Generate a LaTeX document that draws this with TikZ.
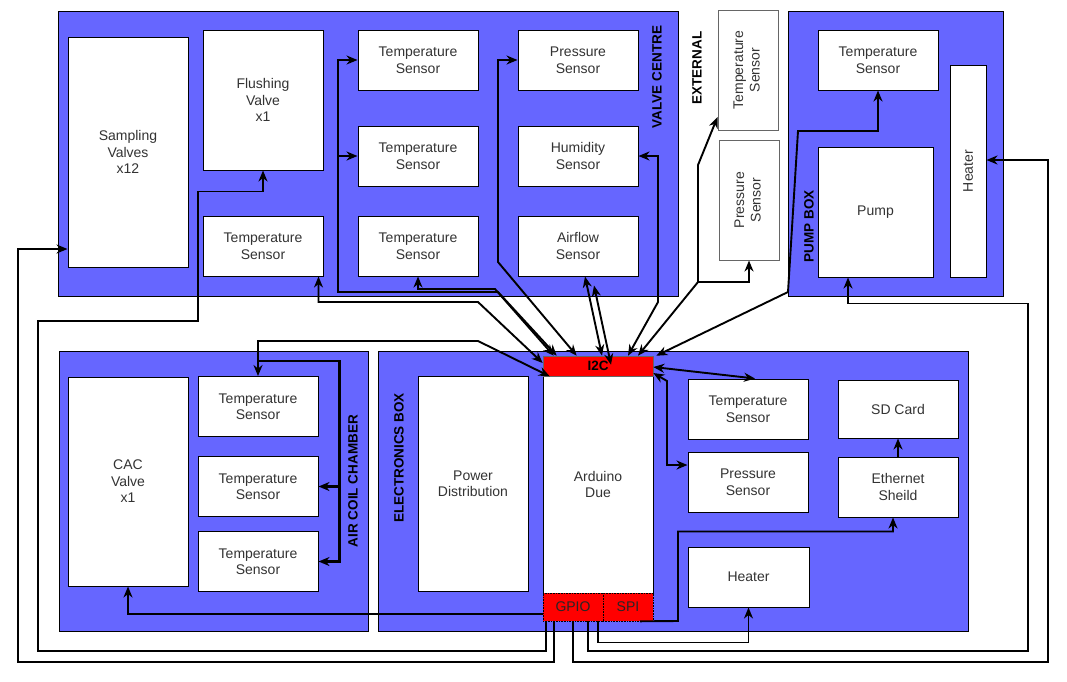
\documentclass[tikz,border=0pt]{standalone}
\usepackage{fontspec}
\setmainfont{Liberation Sans}
\usetikzlibrary{arrows.meta,positioning}
\definecolor{zoneblue}{HTML}{6666FF}
\newcommand{\vtext}[1]{\rotatebox{90}{\begin{tabular}{@{}c@{}}#1\end{tabular}}}
\tikzset{>={Stealth[length=11pt,width=9pt,inset=3.5pt]},node distance=2cm}
\tikzset{every node/.style={font=\fontsize{14}{16.5}\selectfont}}
\tikzset{
  zone/.style={draw=black,fill=zoneblue,line width=1pt},
  box/.style={draw=black,fill=white,line width=1pt,inner sep=0pt,align=center,text=black!80},
  sensor/.style={box,minimum width=120pt,minimum height=60pt},
  zonelabel/.style={rotate=90,inner sep=0pt,font=\fontsize{13.5}{16.5}\selectfont\bfseries},
  port/.style={fill=red,draw=black,densely dotted,line width=0.6pt,inner sep=0pt,text=black!85},
  wire/.style={line width=1.9pt},
  busline/.style={line width=2.8pt}
}

\begin{document}
\begin{tikzpicture}[x=1pt,y=-1pt]
    \useasboundingbox (0,0) rectangle (1067,681);
    % zones
    \draw[zone] (58,11) rectangle (678,296);
    \draw[zone] (788,11) rectangle (1003,296);
    \draw[zone] (59,351) rectangle (368,631);
    \draw[zone] (378,351) rectangle (968,631);
    \node[zonelabel] (vclabel) at (657,77) {VALVE CENTRE};
    \node[zonelabel] (extlabel) at (697,68) {EXTERNAL};
    \node[zonelabel] (pblabel) at (809,226) {PUMP BOX};
    \node[zonelabel] (aclabel) at (353,481) {AIR COIL CHAMBER};
    \node[zonelabel] (eblabel) at (399,458) {ELECTRONICS BOX};

    % valve centre
    \node[box,minimum width=120pt,minimum height=230pt] (samp) at (128,152) {Sampling\\Valves\\x12};
    \node[box,minimum width=120pt,minimum height=140pt] (flush) at (263,100) {Flushing\\Valve\\x1};
    \node[sensor] (vtempA) at (263,246) {Temperature\\Sensor};
    \node[sensor] (vtemp1) at (418,60) {Temperature\\Sensor};
    \node[sensor] (vtemp2) at (418,156) {Temperature\\Sensor};
    \node[sensor] (vtemp3) at (418,246) {Temperature\\Sensor};
    \node[sensor] (vpres) at (578,60) {Pressure\\Sensor};
    \node[sensor] (vhum) at (578,156) {Humidity\\Sensor};
    \node[sensor] (vair) at (578,246) {Airflow\\Sensor};

    % external
    \node[box,draw=black!60,minimum width=60pt,minimum height=120pt] (etemp) at (748,70) {\vtext{Temperature\\Sensor}};
    \node[box,draw=black!60,minimum width=60pt,minimum height=120pt] (epres) at (749,200) {\vtext{Pressure\\Sensor}};
    \coordinate (extjoin) at (698,282);

    % pump box
    \node[sensor] (ptemp) at (878,60) {Temperature\\Sensor};
    \node[box,minimum width=115pt,minimum height=130pt] (pump) at (875.5,212) {Pump};
    \node[box,minimum width=36pt,minimum height=212pt] (pheat) at (968,171) {\rotatebox{90}{Heater}};

    % air coil chamber
    \node[box,minimum width=120pt,minimum height=209pt] (cac) at (128,481.5) {CAC\\Valve\\x1};
    \node[sensor] (atemp1) at (258,406.5) {Temperature\\Sensor};
    \node[sensor] (atemp2) at (258,486.5) {Temperature\\Sensor};
    \node[sensor] (atemp3) at (258,561.5) {Temperature\\Sensor};

    % electronics box
    \node[box,minimum width=110pt,minimum height=215pt] (power) at (473,483.5) {Power\\Distribution};
    \node[box,minimum width=110pt,minimum height=217pt] (due) at (598,484.5) {Arduino\\Due};
    \node[port,solid,draw=black!60,minimum width=110pt,minimum height=20pt,text=black,font=\fontsize{13.5}{16.5}\selectfont\bfseries] (i2c) at (598,366) {I2C};
    \node[port,minimum width=60pt,minimum height=28pt] (gpio) at (573,607) {GPIO};
    \node[port,minimum width=50pt,minimum height=28pt] (spi) at (628,607) {SPI};
    \node[sensor] (etemp2) at (748,409) {Temperature\\Sensor};
    \node[sensor] (epres2) at (748,482) {Pressure\\Sensor};
    \node[sensor,minimum width=121pt] (eheat) at (748.5,577) {Heater};
    \node[sensor,minimum height=58pt] (sd) at (898,409) {SD Card};
    \node[sensor] (eth) at (898,487) {Ethernet\\Sheild};

    % GPIO and SPI wiring
    \draw[wire,->] ([xshift=3pt]gpio.south west) |- (38,651) |- (198,321) |- ([yshift=-21pt]flush.south) -- (flush.south);
    \draw[wire,->] ([xshift=11pt]gpio.south west) |- (18,662) |- ([yshift=-97pt]samp.west);
    \draw[wire,->] ([xshift=30pt]gpio.south west) |- (1048,662) |- ([yshift=11pt]pheat.east);
    \draw[wire,->] ([xshift=45pt]gpio.south west) |- (1028,651) |- ([xshift=-27.5pt,yshift=-26pt]pump.south) -- ([xshift=-27.5pt]pump.south);
    \draw[wire,->] ([xshift=55pt]gpio.south west) |- ([yshift=-35pt]eheat.south) -- (eheat.south);
    \draw[wire,->] ([yshift=-7pt]gpio.west) -| (cac.south);
    \draw[wire,->] ([xshift=12pt]spi.south) -- (678,621) |- ([xshift=-5pt,yshift=-14pt]eth.south) -- ([xshift=-5pt]eth.south);
    \draw[wire,->] (eth.north) -- (sd.south);

    % air coil chamber bus
    \draw[wire,<->] (atemp1.north) |- (478,341) -- ([xshift=7pt]i2c.south west);
    \draw[busline,->] ([yshift=15pt]atemp1.north) -| ([xshift=21pt]atemp3.east) -- (atemp3.east);
    \draw[busline,->] ([xshift=21pt]atemp2.east) -- (atemp2.east);

    % I2C bus
    \draw[wire,<->] ([xshift=-5pt]vtempA.south east) |- (478,302) -- ([yshift=3pt]i2c.west);
    \draw[wire,<->] (vtemp1.west) -| (338,292) -- (498,292) -- ([xshift=14pt]i2c.north west);
    \draw[wire,->] ([xshift=-20pt]vtemp2.west) -- (vtemp2.west);
    \draw[wire,<->] (vtemp3.south) |- (495,289) -- ([xshift=11pt]i2c.north west);
    \draw[wire,<->] (vpres.west) -| (498,262) -- ([xshift=34pt]i2c.north west);
    \draw[wire,<->] ([xshift=7pt]vair.south) -- ([xshift=4pt]i2c.north);
    \draw[wire,<->] ([xshift=16pt,yshift=-9pt]vair.south) -- ([xshift=13pt,yshift=-9pt]i2c.north);
    \draw[wire,<->] (vhum.east) -| (658,302) -- ([xshift=30pt]i2c.north);
    \draw[wire,<->] ([yshift=-47pt]etemp.west) -- (698,165) -- (extjoin) -- ([xshift=40pt]i2c.north);
    \draw[wire,->] (extjoin) -| (epres.south);
    \draw[wire,<->] (ptemp.south) |- (798,131) -- (788,292) -- ([xshift=3pt]i2c.north east);
    \draw[wire,<->] ([yshift=-1pt]i2c.east) -- ([xshift=7pt]etemp2.north);
    \draw[wire,<->] ([yshift=-7pt]i2c.east) -- (667,381) |- ([yshift=17pt]epres2.west);
\end{tikzpicture}
\end{document}
